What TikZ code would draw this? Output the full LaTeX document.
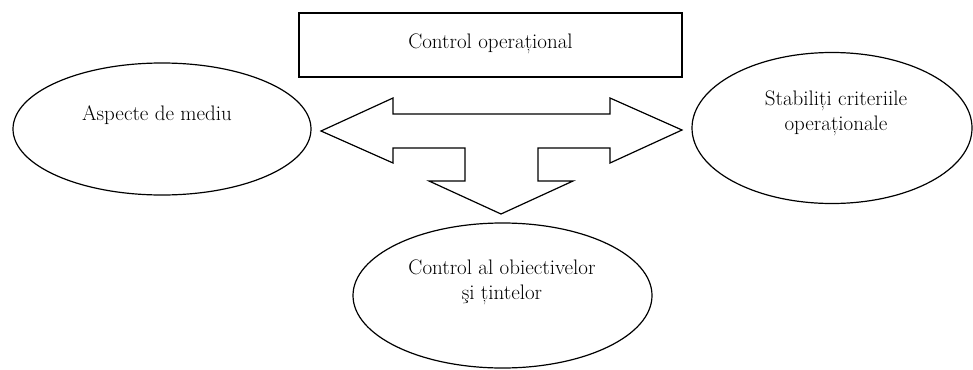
\documentclass[tikz,border=0pt]{standalone}
\usetikzlibrary{shapes.geometric}
\begin{document}
\begin{tikzpicture}[x=1pt,y=-1pt,
  lbl/.style={font=\fontsize{21}{25}\selectfont,align=center,inner sep=0pt},
  oval/.style={draw,line width=1.2pt,ellipse,inner sep=0pt},
  shp/.style={draw,line width=1.2pt,line join=miter}]
\useasboundingbox (0,0) rectangle (973,369);
% rectangle
\node[shp,draw,minimum width=383pt,minimum height=64pt,inner sep=0pt] (rect) at (490.5,45) {};
\node[lbl] (rectt) at (490.5,44) {Control operațional};
% ellipses
\node[oval,minimum width=298pt,minimum height=132pt] (left) at (162,129) {};
\node[lbl] (leftt) at (157,115) {Aspecte de mediu};
\node[oval,minimum width=280pt,minimum height=151pt] (right) at (832,128) {};
\node[lbl] (rightt) at (836,113) {Stabiliți criteriile\\operaționale};
\node[oval,minimum width=299pt,minimum height=145pt] (bottom) at (502.5,295.5) {};
\node[lbl] (bottomt) at (502,282) {Control al obiectivelor\\şi țintelor};
% triple arrow
\coordinate (tl) at (321,131);
\coordinate (tr) at (682,130);
\coordinate (tb) at (501,214);
\draw[shp] (tl) -- (393,98) -- (393,114) -- (610,114) -- (610,98) -- (tr)
  -- (610,163) -- (610,148) -- (538,148) -- (538,181) -- (573,181) -- (tb)
  -- (429,181) -- (465,181) -- (465,148) -- (393,148) -- (393,163) -- cycle;
\end{tikzpicture}
\end{document}
